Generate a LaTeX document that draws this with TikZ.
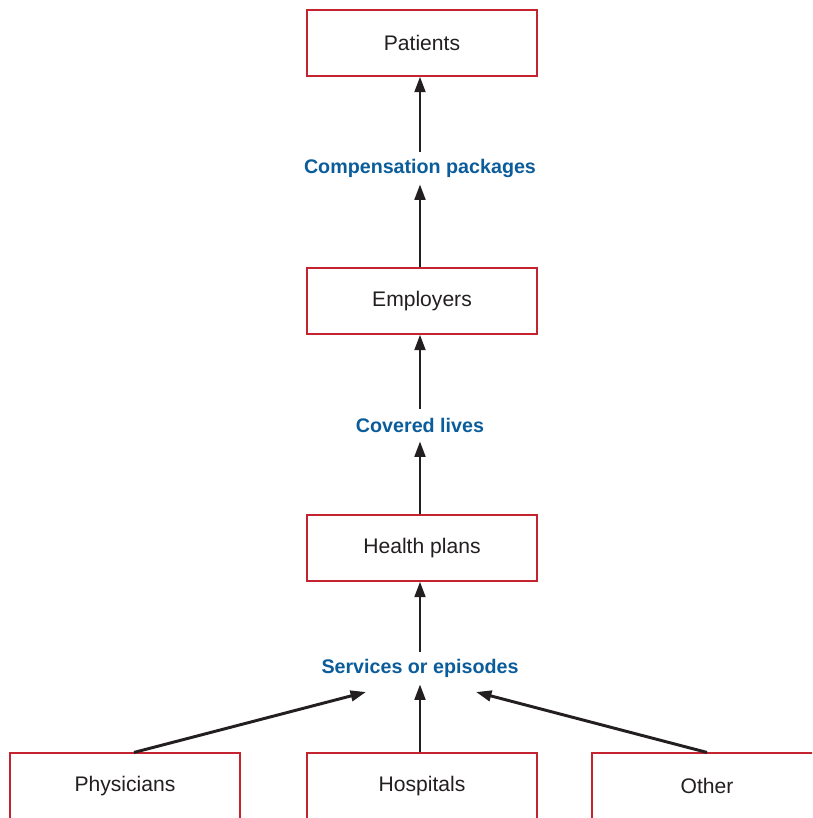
\documentclass[tikz,border=0pt]{standalone}
\usepackage{fontspec}
\setmainfont{Liberation Sans}
\usetikzlibrary{arrows.meta, calc}
\definecolor{boxred}{HTML}{C4232F}
\definecolor{flowblue}{HTML}{0B5C9A}
\definecolor{inkblack}{HTML}{231F20}

\begin{document}
\begin{tikzpicture}[x=0.025cm, y=-0.025cm,
  >={Triangle[length=11pt, width=7.5pt]},
  party/.style={draw=boxred, line width=0.8pt, fill=white, text=inkblack,
    minimum width=5.75cm, minimum height=1.65cm, inner sep=0pt,
    font=\fontsize{15}{18}\selectfont},
  flow/.style={text=flowblue, inner sep=0pt, minimum height=0.8cm,
    font=\fontsize{14}{17}\selectfont\bfseries},
  link/.style={->, draw=inkblack, line width=2.1pt}]

% Frame
\useasboundingbox (0,0) rectangle (812,818);
\clip (0,0) rectangle (812,818);

% --- Parties ---
\node[party] (patients) at (422,43) {Patients};
\node[party] (employers) at (422,301) {Employers};
\node[party] (plans) at (422,548) {Health plans};
\node[party] (phys) at (125,786) {Physicians};
\node[party] (hosp) at (422,786) {Hospitals};
\node[party] (other) at (707,786) {Other};

% --- What flows ---
\node[flow] (comp) at (420,168) {Compensation packages};
\node[flow] (lives) at (420,425) {Covered lives};
\node[flow] (serv) at (420,668) {Services or episodes};
\coordinate (servleft) at (366,692);
\coordinate (servright) at (476,692);

% Arrows
\draw[link] (employers.north -| comp) -- (comp.south);
\draw[link] (comp.north) -- (patients.south -| comp);
\draw[link] (plans.north -| lives) -- (lives.south);
\draw[link] (lives.north) -- (employers.south -| lives);
\draw[link] (hosp.north -| serv) -- (serv.south);
\draw[link] (serv.north) -- (plans.south -| serv);
\draw[link] ($(phys.north)+(9,0)$) -- (servleft);
\draw[link] (other.north) -- (servright);

\end{tikzpicture}
\end{document}
